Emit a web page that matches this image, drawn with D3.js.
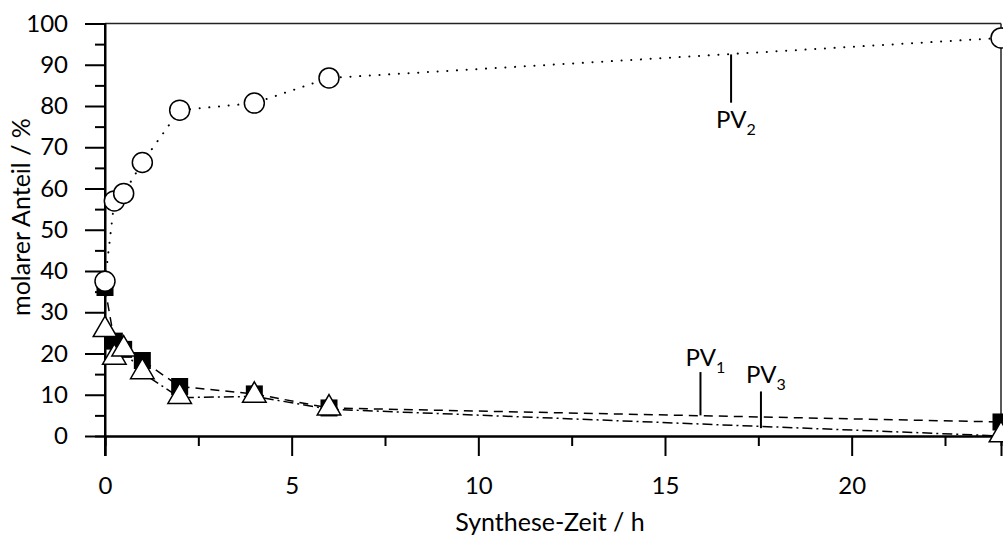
<!DOCTYPE html>
<html>
<head>
<meta charset="utf-8">
<script src="https://cdn.jsdelivr.net/npm/d3@7"></script>
<style>
  body { margin: 0; background: #fff; }
  text { font-family: Lato, "Noto Sans", sans-serif; fill: #000; }
  .tick text { font-size: 24px; }
</style>
</head>
<body>
<div id="chart"></div>
<script>
var svgWidth = 1003;
var svgHeight = 539;

var margin = { top: 23.5, right: 2, bottom: 103, left: 105 };
var width = svgWidth - margin.left - margin.right;
var height = svgHeight - margin.top - margin.bottom;

// Synthese-Zeit in h
var times = [0, 0.25, 0.5, 1, 2, 4, 6, 24];
// molarer Anteil in %
var pv1 = [36, 23, 21, 18.3, 12, 10.2, 6.8, 3.4];
var pv2 = [37.5, 57, 58.8, 66.3, 79, 80.7, 86.8, 96.5];
var pv3 = [25.5, 18.8, 20.8, 15.3, 9.3, 9.6, 6.5, 0];

var xTicks = [0, 5, 10, 15, 20];
var yTicks = [0, 10, 20, 30, 40, 50, 60, 70, 80, 90, 100];

// label anchors: x position, line top / bottom (data units)
var labelNames = ["2", "1", "3"];
var labelX = [16.77, 15.95, 17.57];
var labelLineTop = [92.5, 15.5, 10.8];
var labelLineBottom = [80.8, 5, 1.9];

var svg = d3.select("#chart")
  .append("svg")
  .attr("width", svgWidth)
  .attr("height", svgHeight);

var chartGroup = svg.append("g")
  .attr("transform", `translate(${margin.left}, ${margin.top})`);

var xScale = d3.scaleLinear().domain([0, 24]).range([0, width]);
var yScale = d3.scaleLinear().domain([0, 100]).range([height, 0]);

// frame on top and right
chartGroup.append("line")
  .attr("x1", 0).attr("x2", width).attr("y1", 0).attr("y2", 0)
  .attr("stroke", "#222").attr("stroke-width", 1.5);
chartGroup.append("line")
  .attr("x1", width).attr("x2", width).attr("y1", 0).attr("y2", height)
  .attr("stroke", "#222").attr("stroke-width", 1.5);

// axes: major ticks labelled, minor ticks halfway
var xAxis = chartGroup.append("g")
  .attr("transform", `translate(0, ${height})`)
  .attr("font-size", 24)
  .call(d3.axisBottom(xScale).tickValues(xTicks).tickSize(20).tickPadding(21).tickFormat(d3.format("d")));
chartGroup.append("g")
  .attr("transform", `translate(0, ${height})`)
  .call(d3.axisBottom(xScale).tickValues(xTicks.map(d => d + 2.5)).tickSize(10).tickFormat(""));

var yAxis = chartGroup.append("g")
  .attr("font-size", 24)
  .call(d3.axisLeft(yScale).tickValues(yTicks).tickSize(20).tickPadding(17).tickFormat(d3.format("d")));
chartGroup.append("g")
  .call(d3.axisLeft(yScale).tickValues(yTicks.slice(0, -1).map(d => d + 5)).tickSize(10).tickFormat(""));

chartGroup.selectAll(".domain").attr("stroke", "#000").attr("stroke-width", 2);
chartGroup.selectAll(".tick line").attr("stroke", "#000").attr("stroke-width", 2);
chartGroup.selectAll(".tick text").attr("fill", "#000");
xAxis.selectAll(".tick text").attr("dy", "0.71em");
yAxis.selectAll(".domain").attr("d", `M0,${height + 20}V0`);

// axis titles
svg.append("text")
  .attr("x", margin.left + width / 2 - 3)
  .attr("y", 531)
  .attr("text-anchor", "middle")
  .style("font-size", "25px")
  .text("Synthese-Zeit / h");

svg.append("text")
  .attr("transform", "rotate(-90)")
  .attr("x", -217)
  .attr("y", 30)
  .attr("text-anchor", "middle")
  .style("font-size", "25px")
  .text("molarer Anteil / %");

// lines
var seriesLine = function(values) {
  return d3.line()
    .x((d, i) => xScale(times[i]))
    .y(d => yScale(d))(values);
};

chartGroup.append("path")
  .attr("d", seriesLine(pv2))
  .attr("fill", "none").attr("stroke", "#000").attr("stroke-width", 2)
  .attr("stroke-linecap", "round")
  .attr("stroke-dasharray", "0.1,9.6");

chartGroup.append("path")
  .attr("d", seriesLine(pv1))
  .attr("fill", "none").attr("stroke", "#000").attr("stroke-width", 1.5)
  .attr("stroke-dasharray", "9,6");

chartGroup.append("path")
  .attr("d", seriesLine(pv3))
  .attr("fill", "none").attr("stroke", "#000").attr("stroke-width", 1.5)
  .attr("stroke-dasharray", "10,4,2,4");

// markers: squares, then triangles, then circles on top
chartGroup.selectAll(".sq")
  .data(pv1)
  .enter()
  .append("rect")
  .attr("class", "sq")
  .attr("x", (d, i) => xScale(times[i]) - 8.5)
  .attr("y", d => yScale(d) - 8.5)
  .attr("width", 17).attr("height", 17)
  .attr("fill", "#000");

var tri = d3.symbol().type(d3.symbolTriangle).size(240);
chartGroup.selectAll(".tri")
  .data(pv3)
  .enter()
  .append("path")
  .attr("class", "tri")
  .attr("d", tri)
  .attr("transform", (d, i) => `translate(${xScale(times[i])}, ${yScale(d) - 1})`)
  .attr("fill", "#fff").attr("stroke", "#000").attr("stroke-width", 1.5);

chartGroup.selectAll(".circ")
  .data(pv2)
  .enter()
  .append("circle")
  .attr("class", "circ")
  .attr("cx", (d, i) => xScale(times[i]))
  .attr("cy", d => yScale(d))
  .attr("r", 10)
  .attr("fill", "#fff").attr("stroke", "#000").attr("stroke-width", 1.5);

// series labels
labelNames.forEach(function(name, i) {
  var lx = xScale(labelX[i]);
  chartGroup.append("line")
    .attr("x1", lx).attr("x2", lx)
    .attr("y1", yScale(labelLineTop[i])).attr("y2", yScale(labelLineBottom[i]))
    .attr("stroke", "#000").attr("stroke-width", 2);
  var ty = i === 0 ? yScale(labelLineBottom[i]) + 25
         : i === 1 ? yScale(labelLineTop[i]) - 6
         : yScale(labelLineTop[i]) - 8;
  var t = chartGroup.append("text")
    .attr("x", lx - 15)
    .attr("y", ty)
    .style("font-size", "24px");
  t.append("tspan").text("PV");
  t.append("tspan").attr("dy", 7).style("font-size", "16px").text(name);
});
</script>
</body>
</html>
